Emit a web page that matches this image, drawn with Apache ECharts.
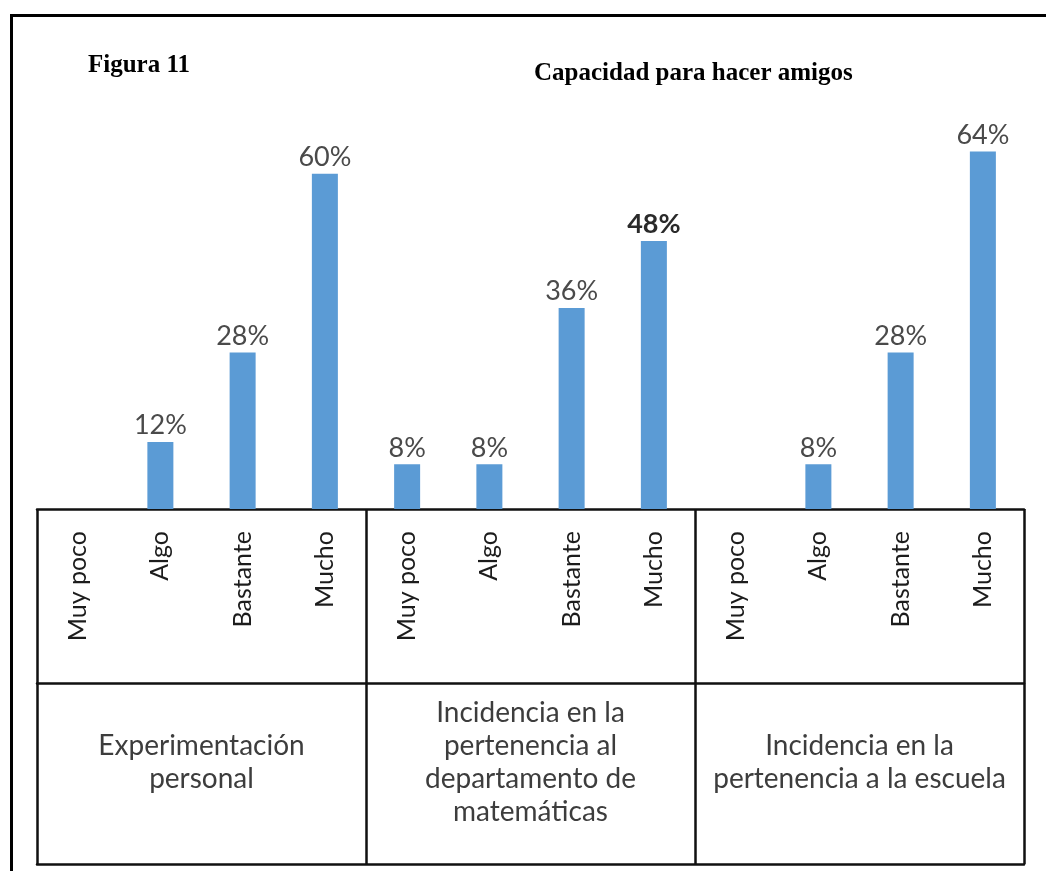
<!DOCTYPE html>
<html>
<head>
<meta charset="utf-8">
<script src="https://cdn.jsdelivr.net/npm/echarts@6/dist/echarts.min.js"></script>
<style>
  html, body { margin: 0; padding: 0; background: #fff; }
  #chart { width: 1046px; height: 871px; }
</style>
</head>
<body>
<div id="chart"></div>
<script>
// datos
const groups = [
  'Experimentación\npersonal',
  'Incidencia en la\npertenencia al\ndepartamento de\nmatemáticas',
  'Incidencia en la\npertenencia a la escuela'
]
const levels = ['Muy poco', 'Algo', 'Bastante', 'Mucho']
const values = [0, 12, 28, 60, 8, 8, 36, 48, 0, 8, 28, 64]
const yMax = 70

// una categoria por barra: "grupo|nivel"
const categories = []
groups.forEach((g, i) => {
  levels.forEach(l => categories.push(i + '|' + l))
})

const gridLeft = 37
const gridRight = 22
const gridBottom = 362
const tableMid = 174   // linea entre niveles y grupos
const tableEnd = 355   // borde inferior de la tabla
const textColor = '#3d3d3d'
const lineColor = '#111'

const chart = echarts.init(document.getElementById('chart'))

const option = {
  backgroundColor: '#fff',
  animation: false,
  title: [{
    text: 'Figura 11',
    left: 88,
    top: 53,
    padding: 0,
    textStyle: { fontFamily: 'Liberation Serif', fontWeight: 'bold', fontSize: 25, color: '#000' }
  }, {
    text: 'Capacidad para hacer amigos',
    left: 534,
    top: 61,
    padding: 0,
    textStyle: { fontFamily: 'Liberation Serif', fontWeight: 'bold', fontSize: 25, color: '#000' }
  }],
  grid: {
    left: gridLeft,
    right: gridRight,
    top: 118,
    bottom: gridBottom
  },
  xAxis: [{
    type: 'category',
    data: categories,
    axisLine: { lineStyle: { color: lineColor, width: 2.5 } },
    axisTick: { show: false },
    axisLabel: {
      interval: 0,
      rotate: 90,
      margin: 22,
      fontFamily: 'Lato',
      fontSize: 25,
      color: '#1c1c1c',
      formatter: v => v.split('|')[1]
    }
  }, {
    type: 'category',
    data: groups,
    position: 'bottom',
    offset: 0,
    axisLine: { show: false },
    axisTick: { show: true, length: tableEnd, lineStyle: { color: lineColor, width: 2.5 } },
    axisLabel: {
      interval: 0,
      margin: 253,
      verticalAlign: 'middle',
      lineHeight: 33,
      fontFamily: 'Lato',
      fontSize: 28,
      color: textColor
    }
  }, {
    type: 'category',
    data: groups,
    position: 'bottom',
    offset: tableMid,
    axisLine: { lineStyle: { color: lineColor, width: 2.5 } },
    axisTick: { show: false },
    axisLabel: { show: false }
  }, {
    type: 'category',
    data: groups,
    position: 'bottom',
    offset: tableEnd,
    axisLine: { lineStyle: { color: lineColor, width: 2.5 } },
    axisTick: { show: false },
    axisLabel: { show: false }
  }],
  yAxis: {
    type: 'value',
    min: 0,
    max: yMax,
    show: false
  },
  series: [{
    type: 'bar',
    xAxisIndex: 0,
    barWidth: 26,
    itemStyle: { color: '#5B9BD5' },
    label: {
      show: true,
      position: 'top',
      distance: 3,
      fontFamily: 'Lato',
      fontSize: 27,
      color: '#4a4a4a',
      formatter: p => (p.value ? p.value + '%' : '')
    },
    data: values.map((v, i) => i === 7 ? { value: v, label: { fontWeight: 'bold', color: '#2a2a2a' } } : v)
  }],
  graphic: [{
    // marco exterior
    type: 'polyline',
    silent: true,
    shape: { points: [[11.5, 871], [11.5, 15.5], [1046, 15.5]] },
    style: { stroke: '#000', lineWidth: 3, fill: null }
  }]
}

chart.setOption(option)
</script>
</body>
</html>
